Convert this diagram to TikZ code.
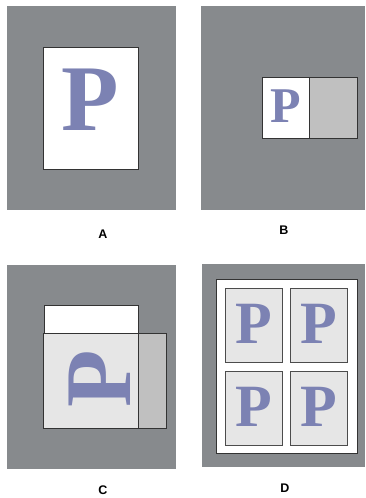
\documentclass[tikz,border=0pt]{standalone}
\usepackage{fontspec}
\setmainfont{Liberation Serif}
\newfontfamily\labelfont{Liberation Sans}
\definecolor{boardgray}{HTML}{878A8D}
\definecolor{pageink}{HTML}{7C82B3}
\definecolor{pagelight}{HTML}{E6E6E6}
\definecolor{pagemid}{HTML}{C0C0C0}

\tikzset{
  board/.style={fill=boardgray,draw=none},
  sheet/.style={draw=black!80,line width=0.8pt},
  bigp/.style={inner sep=0pt,text=pageink,font=\bfseries\fontsize{#1}{#1}\selectfont},
  caption/.style={inner sep=0pt,font=\labelfont\bfseries\fontsize{12.5}{12.5}\selectfont}
}

\begin{document}
\begin{tikzpicture}[x=1pt,y=-1pt]
\useasboundingbox (0,0) rectangle (365,498);

% A
\fill[board] (7,6) rectangle (176,210);
\draw[sheet,fill=white] (43,47) rectangle (138,169);
\node[bigp=94] (pa) at (90,100) {P};
\node[caption] (la) at (103,234) {A};

% B
\fill[board] (201,6) rectangle (365,210);
\draw[sheet,fill=white] (262,77) rectangle (309,138);
\draw[sheet,fill=pagemid] (309,77) rectangle (357,138);
\node[bigp=50] (pb) at (285.5,106) {P};
\node[caption] (lb) at (284,230) {B};

% C
\fill[board] (7,265) rectangle (176,469);
\draw[sheet,fill=white] (44,305) rectangle (138,334);
\draw[sheet,fill=pagelight] (43,333) rectangle (138,428);
\draw[sheet,fill=pagemid] (138,333) rectangle (166,428);
\node[bigp=94,rotate=90] (pc) at (100,379) {P};
\node[caption] (lc) at (103,490) {C};

% D
\fill[board] (202,264) rectangle (365,467);
\draw[sheet,fill=white] (216,279) rectangle (357,453);
\foreach \x in {225,290} {
  \foreach \y in {288,371} {
    \draw[sheet,draw=black!70,fill=pagelight] (\x,\y) rectangle ++(57,74);
    \node[bigp=60] (pd\x\y) at (\x+29,\y+36) {P};
  }
}
\node[caption] (ld) at (285,488) {D};
\end{tikzpicture}
\end{document}
